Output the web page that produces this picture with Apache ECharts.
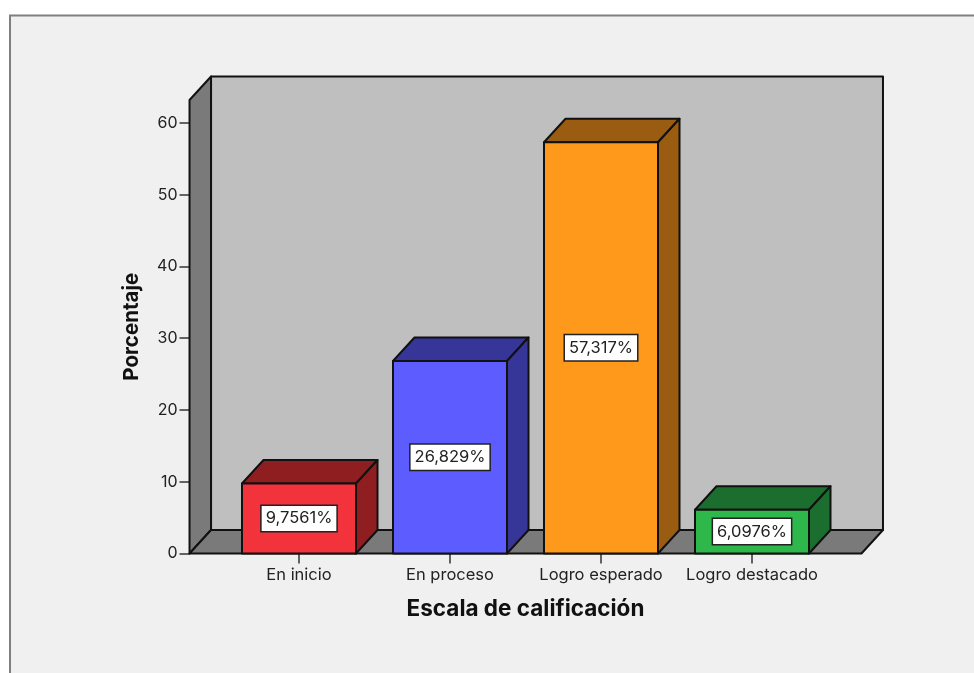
<!DOCTYPE html>
<html>
<head>
<meta charset="utf-8">
<style>html,body{margin:0;padding:0;background:#fff}#main{width:974px;height:673px}</style>
<script src="https://cdn.jsdelivr.net/npm/echarts@6/dist/echarts.min.js"></script>
</head>
<body>
<div id="main"></div>
<script>
const categories = ['En inicio', 'En proceso', 'Logro esperado', 'Logro destacado'];
const percentages = [9.7561, 26.829, 57.317, 6.0976];
const yTicks = [0, 10, 20, 30, 40, 50, 60];
const frontColors = ['#f2333b', '#5c5cff', '#ff991c', '#2eb84c'];
const darkColors = ['#8f1e21', '#363699', '#995c11', '#1c6e2e'];

const yMax = 63.2;
const DX = 21.5, DY = -23.5;
const LINE = '#111';
const font = 'Inter';

function poly(points, fill) {
    return {
        type: 'polygon',
        shape: { points: points },
        style: { fill: fill, stroke: LINE, lineWidth: 2, lineJoin: 'round' }
    };
}

// the box behind the bars: side wall, back wall and floor
function renderWalls(params, api) {
    const band = api.size([1, 0])[0];
    const p0 = api.coord([0, 0]);
    const y0 = p0[1];
    const yTop = api.coord([0, yMax])[1];
    const L = p0[0] - 0.725 * band;
    const R = api.coord([3, 0])[0] + 0.725 * band;
    return {
        type: 'group',
        children: [
            poly([[L + DX, yTop + DY], [R + DX, yTop + DY], [R + DX, y0 + DY], [L + DX, y0 + DY]], '#bfbfbf'),
            poly([[L, y0], [L, yTop], [L + DX, yTop + DY], [L + DX, y0 + DY]], '#7a7a7a'),
            poly([[L, y0], [R, y0], [R + DX, y0 + DY], [L + DX, y0 + DY]], '#7a7a7a')
        ]
    };
}

function renderBar(params, api) {
    const i = api.value(0);
    const v = api.value(1);
    const half = 0.3775 * api.size([1, 0])[0];
    const top = api.coord([i, v]);
    const y0 = api.coord([i, 0])[1];
    const l = top[0] - half, r = top[0] + half, t = top[1];
    const txt = v.toPrecision(5).replace('.', ',') + '%';
    return {
        type: 'group',
        children: [
            poly([[l, t], [r, t], [r + DX, t + DY], [l + DX, t + DY]], darkColors[i]),
            poly([[r, t], [r + DX, t + DY], [r + DX, y0 + DY], [r, y0]], darkColors[i]),
            poly([[l, t], [r, t], [r, y0], [l, y0]], frontColors[i]),
            {
                type: 'text',
                style: {
                    text: txt,
                    x: top[0],
                    y: (t + y0) / 2,
                    align: 'center',
                    verticalAlign: 'middle',
                    fill: '#222',
                    font: '16.5px "' + font + '"',
                    backgroundColor: '#fff',
                    borderColor: '#222',
                    borderWidth: 1.5,
                    padding: [4, 4, 4, 4]
                }
            }
        ]
    };
}

const chart = echarts.init(document.getElementById('main'));
chart.setOption({
    animation: false,
    backgroundColor: '#fff',
    graphic: [{
        type: 'rect',
        z: -10,
        shape: { x: 10, y: 15.5, width: 1000, height: 700 },
        style: { fill: '#f0f0f0', stroke: '#808080', lineWidth: 2 }
    }],
    grid: { left: 223.5, width: 604, top: 100, height: 453.5 },
    xAxis: {
        type: 'category',
        data: categories,
        name: 'Escala de calificación',
        nameLocation: 'middle',
        nameGap: 44,
        nameTextStyle: { fontFamily: font, fontWeight: 'bold', fontSize: 22.5, color: '#111' },
        axisLine: { show: false },
        axisTick: { show: true, alignWithLabel: true, length: 10, lineStyle: { color: '#333', width: 1.5 } },
        axisLabel: { interval: 0, fontFamily: font, fontSize: 16.5, color: '#222', margin: 13 }
    },
    yAxis: {
        type: 'value',
        min: 0,
        max: yMax,
        interval: 10,
        offset: 34,
        name: 'Porcentaje',
        nameLocation: 'middle',
        nameRotate: 90,
        nameGap: 47,
        nameTextStyle: { fontFamily: font, fontWeight: 'bold', fontSize: 20.5, color: '#111' },
        splitLine: { show: false },
        axisLine: { show: false },
        axisTick: { show: true, length: 10, customValues: yTicks, lineStyle: { color: '#333', width: 1.5 } },
        axisLabel: { fontFamily: font, fontSize: 16, color: '#222', margin: 12, customValues: yTicks }
    },
    series: [
        {
            type: 'custom',
            renderItem: renderWalls,
            data: [[0, 0]],
            encode: { x: 0, y: 1 },
            clip: false,
            silent: true,
            z: 1
        },
        {
            type: 'custom',
            renderItem: renderBar,
            data: percentages.map((v, i) => [i, v]),
            encode: { x: 0, y: 1 },
            clip: false,
            silent: true,
            z: 2
        }
    ]
});
</script>
</body>
</html>
